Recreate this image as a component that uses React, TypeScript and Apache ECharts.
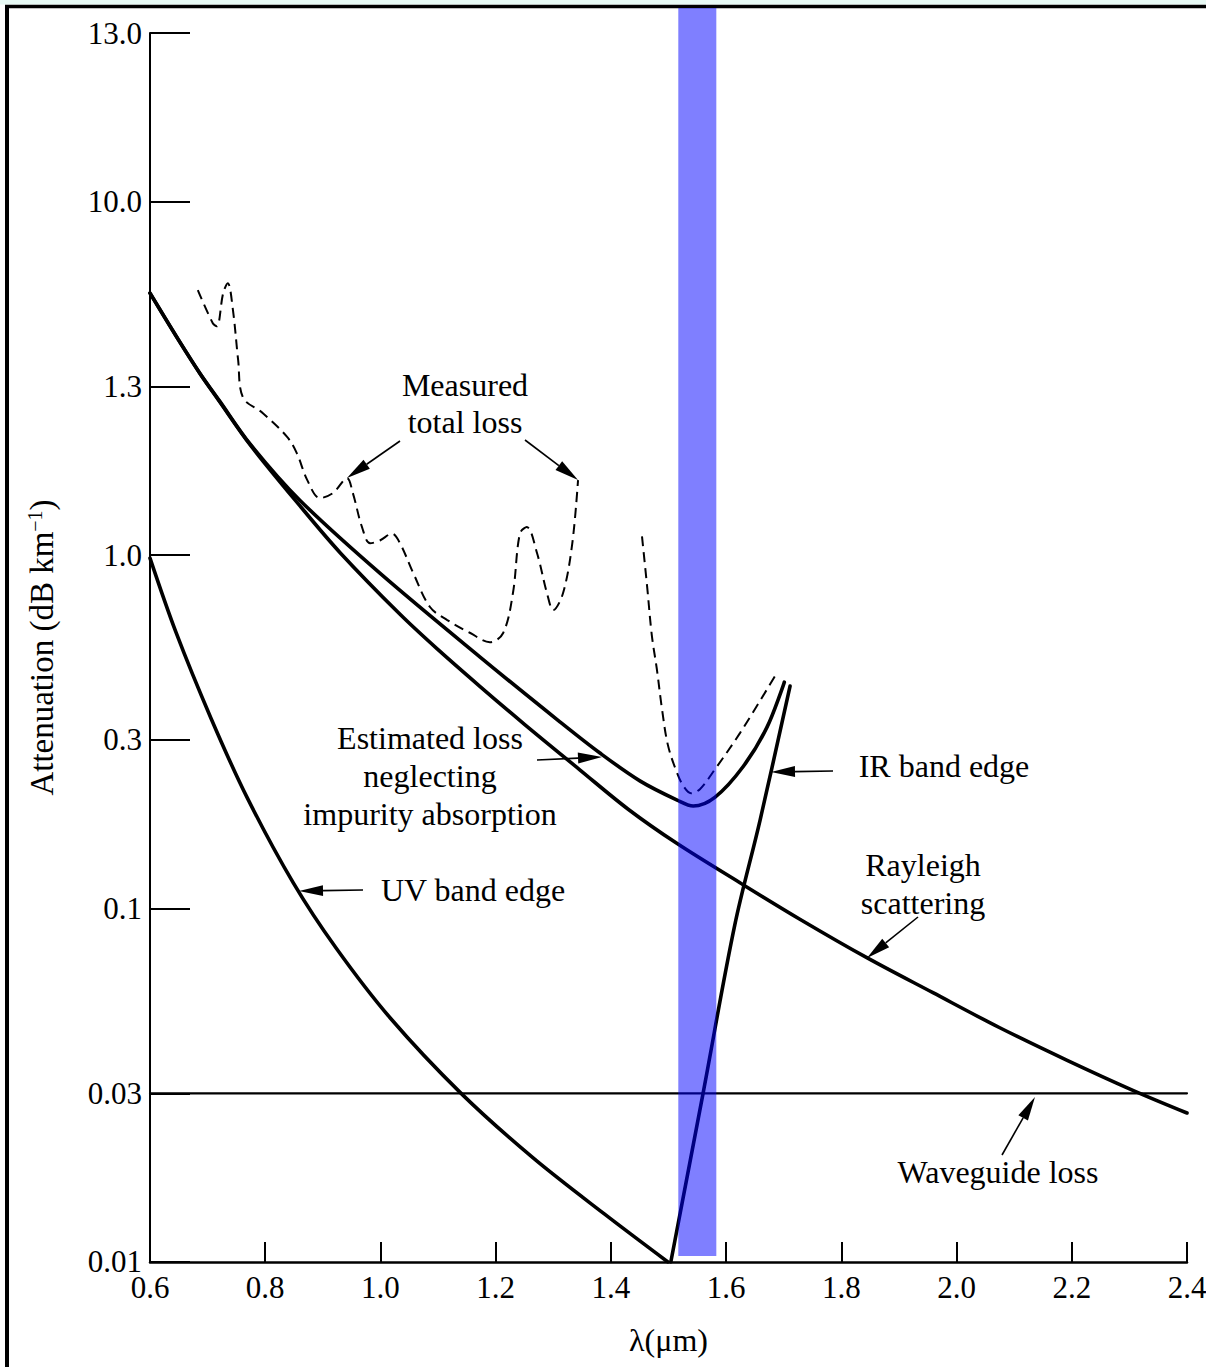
import React, { useEffect, useRef } from "react";
import * as echarts from "echarts";

// ---------- data ----------
const xMin = 0.6;
const xMax = 2.4;
const xInterval = 0.2;

const yTickValues = [0.01, 0.03, 0.1, 0.3, 1, 3, 10, 30];
const yTickLabels = ["0.01", "0.03", "0.1", "0.3", "1.0", "1.3", "10.0", "13.0"];

const rayleighLambda = [0.6, 0.65, 0.687, 0.72, 0.774, 0.86, 0.93, 1.034, 1.1, 1.173, 1.25, 1.346, 1.43, 1.515, 1.624, 1.728, 1.845, 1.959, 2.075, 2.192, 2.306, 2.4];
const rayleighLoss = [5.51, 4.05, 3.26, 2.73, 2.05, 1.38, 1.016, 0.68, 0.54, 0.4246, 0.332, 0.2469, 0.191, 0.1527, 0.1183, 0.0933, 0.0725, 0.0578, 0.046, 0.0372, 0.0306, 0.0264];

const estimatedLambda = [0.6, 0.65, 0.687, 0.72, 0.774, 0.86, 0.999, 1.173, 1.312, 1.381, 1.451, 1.515, 1.543, 1.581, 1.629, 1.671, 1.701];
const estimatedLoss = [5.51, 4.05, 3.26, 2.74, 2.06, 1.43, 0.889, 0.5146, 0.337, 0.2754, 0.2294, 0.2027, 0.195, 0.2067, 0.2514, 0.326, 0.437];

const uvLambda = [0.6, 0.645, 0.706, 0.768, 0.849, 0.923, 1.017, 1.14, 1.265, 1.388, 1.499];
const uvLoss = [0.98, 0.605, 0.345, 0.207, 0.118, 0.0773, 0.049, 0.03, 0.0197, 0.0137, 0.01];

const irLambda = [1.504, 1.56, 1.615, 1.659, 1.711];
const irLoss = [0.01, 0.03, 0.0898, 0.178, 0.426];

const waveguideLambda = [0.6, 2.4];
const waveguideLoss = [0.03, 0.03];

const measuredALambda = [0.683, 0.709, 0.716, 0.727, 0.735, 0.744, 0.753, 0.761, 0.796, 0.838, 0.855, 0.873, 0.895, 0.918, 0.942, 0.952, 0.968, 0.982, 0.999, 1.02, 1.034, 1.057, 1.086, 1.116, 1.156, 1.19, 1.213, 1.23, 1.242, 1.254, 1.272, 1.289, 1.3, 1.317, 1.333, 1.343];
const measuredALoss = [5.62, 4.53, 4.44, 5.51, 5.88, 4.93, 3.56, 2.8, 2.52, 2.16, 1.94, 1.63, 1.45, 1.5, 1.65, 1.5, 1.2, 1.08, 1.1, 1.15, 1.08, 0.889, 0.713, 0.655, 0.602, 0.567, 0.602, 0.781, 1.15, 1.2, 1.01, 0.781, 0.699, 0.781, 1.08, 1.63];

const measuredBLambda = [1.454, 1.463, 1.471, 1.48, 1.489, 1.499, 1.515, 1.527, 1.539, 1.555, 1.577, 1.624, 1.688];
const measuredBLoss = [1.13, 0.812, 0.594, 0.473, 0.364, 0.29, 0.2416, 0.2207, 0.212, 0.218, 0.243, 0.3136, 0.4637];

// highlighted wavelength window
const bandLambda = [1.517, 1.583];
const bandBottomLoss = 0.0104;

const FONT = '"Liberation Serif", "Times New Roman", serif';

const pairs = (xs: number[], ys: number[]) => xs.map((x, i) => [x, ys[i]]);

function arrow(x1: number, y1: number, x2: number, y2: number, head = 24, half = 5.5) {
  const dx = x2 - x1;
  const dy = y2 - y1;
  const len = Math.sqrt(dx * dx + dy * dy);
  const ux = dx / len;
  const uy = dy / len;
  const bx = x2 - ux * head;
  const by = y2 - uy * head;
  const px = -uy * half;
  const py = ux * half;
  return [
    {
      type: "line",
      shape: { x1, y1, x2: bx, y2: by },
      style: { stroke: "#000", lineWidth: 1.6 },
      z: 50,
    },
    {
      type: "polygon",
      shape: { points: [[x2, y2], [bx + px, by + py], [bx - px, by - py]] },
      style: { fill: "#000" },
      z: 50,
    },
  ];
}

function label(text: string, x: number, y: number) {
  return {
    type: "text",
    style: {
      text,
      x,
      y,
      align: "center",
      verticalAlign: "middle",
      fontSize: 32,
      fontFamily: FONT,
      fill: "#000",
    },
    z: 50,
  };
}

export default function App() {
  const ref = useRef<HTMLDivElement>(null);

  useEffect(() => {
    if (!ref.current) return;
    const chart = echarts.init(ref.current, undefined, { renderer: "svg" });

    const solid = (name: string, data: number[][], smooth: number | boolean, width = 3.6) => ({
      name,
      type: "line",
      data,
      smooth,
      showSymbol: false,
      symbol: "none",
      lineStyle: { color: "#000", width, join: "round", cap: "round" },
      z: 3,
    });
    const dashed = (name: string, data: number[][]) => ({
      name,
      type: "line",
      data,
      smooth: 0.35,
      showSymbol: false,
      symbol: "none",
      lineStyle: { color: "#000", width: 2, type: [10, 6] },
      z: 3,
    });

    const option: any = {
      animation: false,
      backgroundColor: "#fff",
      grid: { left: 150, right: 19, top: 33, bottom: 105, outerBoundsMode: "none" },
      xAxis: {
        type: "value",
        min: xMin,
        max: xMax,
        interval: xInterval,
        name: "λ(μm)",
        nameLocation: "middle",
        nameGap: 62,
        nameMoveOverlap: false,
        nameTextStyle: { fontSize: 32, fontFamily: FONT, color: "#000" },
        axisLine: { show: true, onZero: false, lineStyle: { color: "#000", width: 2.5 } },
        axisTick: { show: true, inside: true, length: 20, lineStyle: { color: "#000", width: 2 } },
        axisLabel: {
          show: true,
          margin: 10,
          fontSize: 31,
          fontFamily: FONT,
          color: "#000",
          formatter: (v: number) => v.toFixed(1),
        },
        splitLine: { show: false },
        minorTick: { show: false },
      },
      yAxis: {
        type: "log",
        logBase: 10,
        min: 0.0099999,
        max: 30.0001,
        name: "Attenuation (dB km{sup|−1})",
        nameLocation: "middle",
        nameGap: 92,
        nameMoveOverlap: false,
        nameTextStyle: {
          fontSize: 33,
          fontFamily: FONT,
          color: "#000",
          rich: { sup: { fontSize: 20, fontFamily: FONT, color: "#000", verticalAlign: "top", padding: [0, 0, 12, 0] } },
        },
        axisLine: { show: true, onZero: false, lineStyle: { color: "#000", width: 2 } },
        axisTick: {
          show: true,
          inside: true,
          length: 40,
          customValues: yTickValues,
          lineStyle: { color: "#000", width: 2 },
        },
        axisLabel: {
          show: true,
          margin: 8,
          fontSize: 31,
          fontFamily: FONT,
          color: "#000",
          customValues: yTickValues,
          formatter: (v: number) => {
            for (let i = 0; i < yTickValues.length; i++) {
              if (Math.abs(Math.log10(v) - Math.log10(yTickValues[i])) < 1e-3) return yTickLabels[i];
            }
            return "";
          },
        },
        splitLine: { show: false },
        minorTick: { show: false },
        minorSplitLine: { show: false },
      },
      series: [
        solid("Rayleigh scattering", pairs(rayleighLambda, rayleighLoss), 0.33),
        solid("Estimated loss", pairs(estimatedLambda, estimatedLoss), 0.33),
        solid("UV band edge", pairs(uvLambda, uvLoss), 0.33),
        solid("IR band edge", pairs(irLambda, irLoss), 0.35),
        solid("Waveguide loss", pairs(waveguideLambda, waveguideLoss), false, 2.2),
        dashed("Measured total loss (a)", pairs(measuredALambda, measuredALoss)),
        dashed("Measured total loss (b)", pairs(measuredBLambda, measuredBLoss)),
      ],
    };

    chart.setOption(option);

    const p1 = chart.convertToPixel({ gridIndex: 0 }, [bandLambda[0], bandBottomLoss]) as number[];
    const p2 = chart.convertToPixel({ gridIndex: 0 }, [bandLambda[1], bandBottomLoss]) as number[];
    const bandTop = 8;

    const elements: any[] = [
      // scan frame
      { type: "rect", shape: { x: 0, y: 0, width: 1206, height: 4.5 }, style: { fill: "#e8faf5" }, z: 60 },
      { type: "line", shape: { x1: 5, y1: 6.5, x2: 1206, y2: 6.5 }, style: { stroke: "#000", lineWidth: 3.5 }, z: 60 },
      { type: "line", shape: { x1: 7, y1: 5, x2: 7, y2: 1367 }, style: { stroke: "#000", lineWidth: 4 }, z: 60 },
      // highlighted band
      {
        type: "rect",
        shape: { x: p1[0], y: bandTop, width: p2[0] - p1[0], height: p1[1] - bandTop },
        style: { fill: "rgba(0,0,255,0.5)" },
        z: 100,
      },
      label("Measured", 465, 385),
      label("total loss", 465, 422),
      ...arrow(400, 441, 347, 478),
      ...arrow(525, 440, 578, 480),
      label("Estimated loss", 430, 738),
      label("neglecting", 430, 776),
      label("impurity absorption", 430, 814),
      ...arrow(537, 760, 602, 757),
      label("UV band edge", 473, 890),
      ...arrow(363, 890, 299, 891),
      label("IR band edge", 944, 766),
      ...arrow(833, 771, 771, 772),
      label("Rayleigh", 923, 865),
      label("scattering", 923, 903),
      ...arrow(918, 917, 867, 958),
      label("Waveguide loss", 998, 1172),
      ...arrow(1002, 1155, 1035, 1097),
    ];

    chart.setOption({ graphic: { elements } });

    return () => chart.dispose();
  }, []);

  return (
    <div
      ref={ref}
      style={{ position: "absolute", left: 0, top: 0, width: 1206, height: 1367, background: "#fff" }}
    />
  );
}
